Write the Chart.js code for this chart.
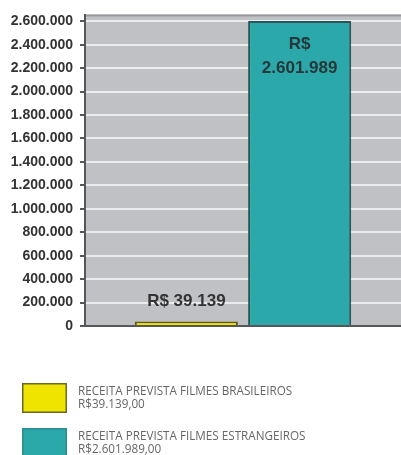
<!DOCTYPE html>
<html>
<head>
<meta charset="utf-8">
<title>Receita prevista</title>
<script src="https://cdn.jsdelivr.net/npm/chart.js@4.4.1/dist/chart.umd.min.js"></script>
<style>
  html, body { margin: 0; padding: 0; background: #ffffff; }
  #wrap { width: 401px; height: 455px; position: relative; }
</style>
</head>
<body>
<div id="wrap"><canvas id="chart" width="401" height="455"></canvas></div>
<script>
// Revenue forecast: Brazilian vs foreign films (R$)
const categories = ['Receita prevista'];
const seriesNames = ['RECEITA PREVISTA FILMES BRASILEIROS', 'RECEITA PREVISTA FILMES ESTRANGEIROS'];
const brazilianValues = [39139];
const foreignValues = [2601989];
const yTickValues = [0, 200000, 400000, 600000, 800000, 1000000, 1200000, 1400000,
                     1600000, 1800000, 2000000, 2200000, 2400000, 2600000];
const yMax = 2650000;

const fillColors = ['#efe300', '#2ba8aa'];
const edgeColors = ['#5e5c1c', '#2a5658'];

function thousands(v) {
  return String(v).replace(/\B(?=(\d{3})+(?!\d))/g, '.');
}

// gray plot background with a darker top rim
const plotBackground = {
  id: 'plotBackground',
  beforeDraw(chart) {
    const { ctx, chartArea: a } = chart;
    ctx.save();
    ctx.fillStyle = '#c0c1c5';
    ctx.fillRect(a.left, a.top, a.right - a.left, a.bottom - a.top);
    ctx.fillStyle = '#96979b';
    ctx.fillRect(a.left, a.top - 1, a.right - a.left, 2);
    ctx.restore();
  }
};

// value captions: above short bars, inside the top of tall bars
const valueCaptions = {
  id: 'valueCaptions',
  afterDatasetsDraw(chart) {
    const { ctx } = chart;
    ctx.save();
    ctx.textAlign = 'center';
    ctx.textBaseline = 'middle';
    ctx.font = 'bold 17px "Liberation Sans", Arial, sans-serif';
    chart.data.datasets.forEach((ds, i) => {
      const meta = chart.getDatasetMeta(i);
      meta.data.forEach((bar, j) => {
        const v = ds.data[j];
        const height = bar.base - bar.y;
        if (height > 60) {
          ctx.fillStyle = '#26383a';
          ctx.fillText('R$', bar.x, bar.y + 23);
          ctx.fillText(thousands(v), bar.x, bar.y + 47);
        } else {
          ctx.fillStyle = '#333333';
          ctx.fillText('R$ ' + thousands(v), bar.x, bar.y - 20);
        }
      });
    });
    ctx.restore();
  }
};

// legend block below the plot: swatch, series name and amount
const boxLegend = {
  id: 'boxLegend',
  afterDraw(chart) {
    const { ctx } = chart;
    ctx.save();
    chart.data.datasets.forEach((ds, i) => {
      const top = 383 + i * 45;
      ctx.fillStyle = ds.backgroundColor;
      ctx.fillRect(22, top, 45, 30);
      ctx.strokeStyle = i === 0 ? '#6a6828' : '#2b8c8e';
      ctx.lineWidth = 1.5;
      ctx.strokeRect(22.75, top + 0.75, 43.5, 28.5);
      ctx.fillStyle = '#666666';
      ctx.font = '11.7px "Open Sans", "Noto Sans", sans-serif';
      ctx.textAlign = 'left';
      ctx.textBaseline = 'middle';
      ctx.fillText(ds.label, 78, top + 9);
      ctx.fillText('R$' + thousands(ds.data[0]) + ',00', 78, top + 22);
    });
    ctx.restore();
  }
};

new Chart(document.getElementById('chart'), {
  type: 'bar',
  data: {
    labels: categories,
    datasets: [
      {
        label: seriesNames[0],
        data: brazilianValues,
        backgroundColor: fillColors[0],
        borderColor: edgeColors[0],
        borderWidth: 2,
        borderSkipped: 'bottom'
      },
      {
        label: seriesNames[1],
        data: foreignValues,
        backgroundColor: fillColors[1],
        borderColor: edgeColors[1],
        borderWidth: 2,
        borderSkipped: 'bottom'
      }
    ]
  },
  options: {
    responsive: false,
    animation: false,
    devicePixelRatio: 1,
    categoryPercentage: 0.717,
    barPercentage: 0.91,
    layout: { padding: { top: 13, right: 0, bottom: 129, left: 0 } },
    plugins: {
      legend: { display: false },
      tooltip: { enabled: false }
    },
    scales: {
      x: {
        offset: true,
        grid: { display: false, drawTicks: false },
        ticks: { display: false },
        border: { display: true, color: '#56575a', width: 2 }
      },
      y: {
        min: 0,
        max: yMax,
        afterBuildTicks(scale) {
          scale.ticks = yTickValues.map(v => ({ value: v }));
        },
        afterFit(scale) {
          scale.width = 85;
        },
        grid: {
          color: '#ececee',
          lineWidth: 2,
          drawTicks: true,
          tickLength: 5,
          tickColor: '#56575a'
        },
        border: { display: true, color: '#56575a', width: 2 },
        ticks: {
          padding: 7,
          color: '#333333',
          font: { family: '"Liberation Sans", Arial, sans-serif', size: 14, weight: 'bold' },
          callback: v => thousands(v)
        }
      }
    }
  },
  plugins: [plotBackground, valueCaptions, boxLegend]
});
</script>
</body>
</html>
